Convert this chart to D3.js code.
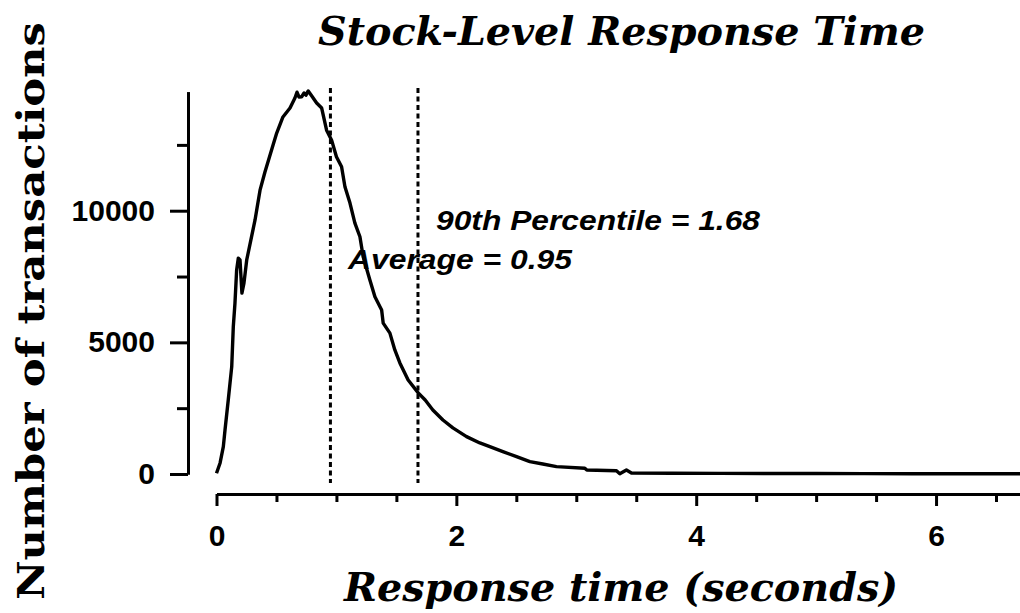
<!DOCTYPE html>
<html><head><meta charset="utf-8">
<script src="https://cdn.jsdelivr.net/npm/d3@7"></script>
<style>html,body{margin:0;padding:0;background:#fff;}svg{display:block;}</style>
</head><body>
<svg id="chart" width="1020" height="613"></svg>
<script>
// Data
const times = [0.00,0.03,0.057,0.071,0.098,0.127,0.14,0.154,0.168,0.182,0.196,0.212,0.229,0.252,0.321,0.363,0.404,0.471,0.502,0.554,0.613,0.654,0.671,0.688,0.71,0.73,0.746,0.765,0.796,0.835,0.877,0.918,0.96,1.0,1.043,1.071,1.113,1.154,1.196,1.223,1.279,1.321,1.377,1.39,1.446,1.487,1.529,1.598,1.682,1.74,1.804,1.888,1.971,2.085,2.196,2.279,2.388,2.502,2.613,2.721,2.835,3.071,3.088,3.335,3.363,3.418,3.46,3.8,4.2,4.6,5.0,5.4,5.8,6.2,6.7];
const counts = [30,420,1040,1670,2810,4080,5590,6490,7750,8200,8130,6870,7250,8130,9640,10780,11470,12490,12950,13560,13900,14280,14500,14320,14330,14470,14390,14550,14350,14090,13900,13060,12680,12050,11670,10910,10290,9530,9010,8250,7370,6730,6230,5730,5350,4710,4220,3570,3080,2810,2430,2050,1750,1420,1180,1040,850,660,470,380,280,220,150,125,10,150,40,30,25,20,18,15,12,10,10];
const markers = [0.95, 1.68];
const markerLabels = ["Average = 0.95", "90th Percentile = 1.68"];
const xMajorTicks = [0, 2, 4, 6];
const xMinorTicks = [0.5, 1, 1.5, 2.5, 3, 3.5, 4.5, 5, 5.5, 6.5];
const yMajorTicks = [0, 5000, 10000];
const yMinorTicks = [2500, 7500, 12500];
const title = "Stock-Level Response Time";
const xTitle = "Response time (seconds)";
const yTitle = "Number of transactions";

const svg = d3.select("#chart");
const x = d3.scaleLinear().domain([0, 6.7]).range([216.5, 1020]);
const y = d3.scaleLinear().domain([0, 14520]).range([474, 91.7]);

const tickFont = "'Liberation Sans', Arial, sans-serif";

// Y axis
const yAxisX = 188;
const gy = svg.append("g").attr("transform", `translate(${yAxisX},0)`);
gy.call(d3.axisLeft(y).tickValues(yMajorTicks).tickSize(18).tickSizeOuter(0).tickPadding(15).tickFormat(d3.format("d")));
gy.append("g").call(d3.axisLeft(y).tickValues(yMinorTicks).tickSize(11).tickSizeOuter(0).tickFormat(""));
gy.selectAll(".domain").attr("stroke", "#000").attr("stroke-width", 3);
gy.selectAll(".tick line").attr("stroke", "#000").attr("stroke-width", 3);
gy.selectAll(".tick text").attr("font-family", tickFont).attr("font-weight", "bold").attr("font-size", 30).attr("fill", "#000");

// X axis
const xAxisY = 494;
const gx = svg.append("g").attr("transform", `translate(0,${xAxisY})`);
gx.call(d3.axisBottom(x).tickValues(xMajorTicks).tickSize(12).tickSizeOuter(0).tickPadding(19).tickFormat(d3.format("d")));
gx.append("g").call(d3.axisBottom(x).tickValues(xMinorTicks).tickSize(8).tickSizeOuter(0).tickFormat(""));
gx.selectAll(".domain").attr("stroke", "#000").attr("stroke-width", 3);
gx.selectAll(".tick line").attr("stroke", "#000").attr("stroke-width", 3);
gx.selectAll(".tick text").attr("font-family", tickFont).attr("font-weight", "bold").attr("font-size", 30).attr("fill", "#000");

// Marker dashed lines
svg.append("g").selectAll("line").data(markers).join("line")
  .attr("x1", d => x(d)).attr("x2", d => x(d))
  .attr("y1", 88).attr("y2", 483)
  .attr("stroke", "#000").attr("stroke-width", 3).attr("stroke-dasharray", "5,3.5");

// Curve
const pts = times.map((t, i) => [t, counts[i]]);
svg.append("path").datum(pts)
  .attr("fill", "none").attr("stroke", "#000").attr("stroke-width", 3.4).attr("stroke-linejoin", "round")
  .attr("d", d3.line().x(d => x(d[0])).y(d => y(d[1])));

// Annotations
const annFont = "'Liberation Sans', Arial, sans-serif";
svg.append("text").text(markerLabels[1]).attr("x", 436).attr("y", 230)
  .attr("font-family", annFont).attr("font-weight", "bold").attr("font-style", "italic").attr("font-size", 27)
  .attr("textLength", 324).attr("lengthAdjust", "spacingAndGlyphs");
svg.append("text").text(markerLabels[0]).attr("x", 348).attr("y", 269)
  .attr("font-family", annFont).attr("font-weight", "bold").attr("font-style", "italic").attr("font-size", 27)
  .attr("textLength", 224).attr("lengthAdjust", "spacingAndGlyphs");

// Titles
const serif = "'DejaVu Serif', serif";
const t1 = svg.append("text").text(title).attr("x", 318).attr("y", 45)
  .attr("font-family", serif).attr("font-weight", "bold").attr("font-style", "italic").attr("font-size", 40);
const natTitle = t1.node().getComputedTextLength();
const sx = 607 / natTitle;
t1.attr("textLength", 607).attr("lengthAdjust", "spacingAndGlyphs");

const t2 = svg.append("text").text(xTitle)
  .attr("font-family", serif).attr("font-weight", "bold").attr("font-style", "italic").attr("font-size", 40);
const natX = t2.node().getComputedTextLength();
const wX = natX * sx;
t2.attr("x", 621 - wX / 2).attr("y", 601).attr("textLength", wX).attr("lengthAdjust", "spacingAndGlyphs");

svg.append("text").text(yTitle)
  .attr("transform", "translate(44,600) rotate(-90)")
  .attr("font-family", serif).attr("font-weight", "bold").attr("font-size", 38)
  .attr("textLength", 578).attr("lengthAdjust", "spacingAndGlyphs");
</script>
</body></html>
